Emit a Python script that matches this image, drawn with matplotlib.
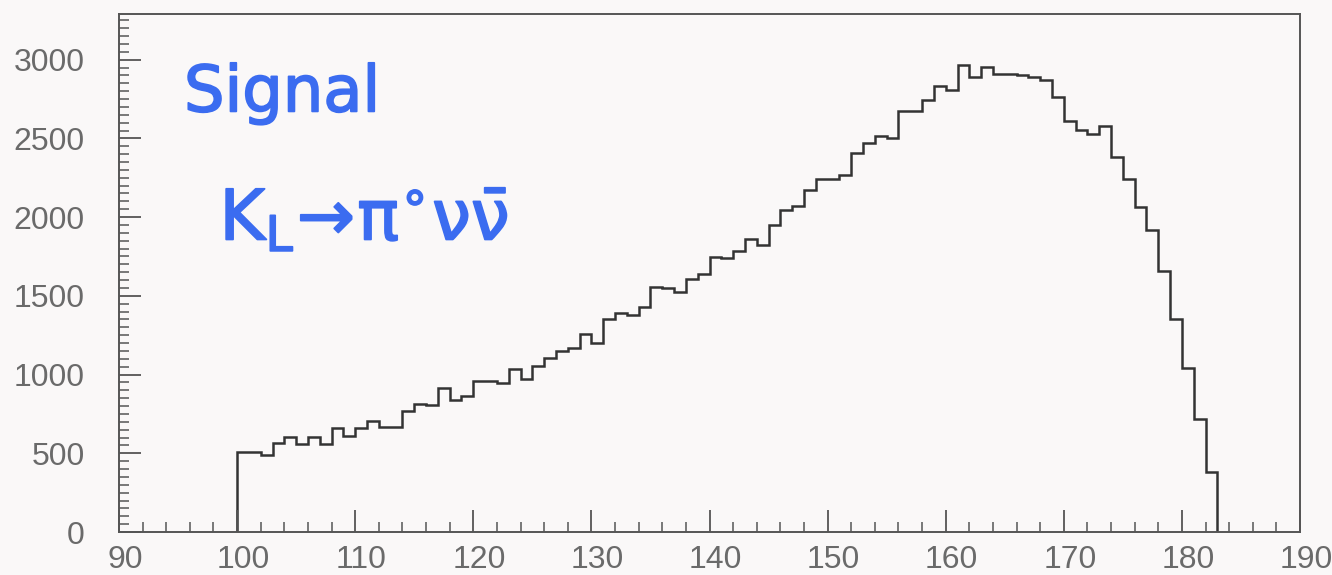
import numpy as np
import matplotlib
matplotlib.use('Agg')
import matplotlib.pyplot as plt
import matplotlib.transforms as mtransforms
import matplotlib.patheffects as pe
from matplotlib.ticker import MultipleLocator

plt.rcParams['mathtext.default'] = 'regular'

# bin edges: 1 unit bins from 100 to 183
bin_lo = 100
bin_hi = 183
counts = [505, 510, 487, 568, 606, 557, 606, 561, 663, 610,
          663, 705, 667, 667, 768, 811, 805, 917, 836, 864,
          959, 959, 946, 1035, 970, 1054, 1107, 1149, 1170, 1255,
          1202, 1350, 1388, 1376, 1431, 1558, 1551, 1526, 1604, 1636,
          1746, 1742, 1784, 1858, 1822, 1953, 2044, 2069, 2170, 2243,
          2243, 2270, 2408, 2471, 2518, 2503, 2672, 2672, 2746, 2831,
          2805, 2964, 2890, 2954, 2911, 2911, 2905, 2888, 2868, 2760,
          2613, 2556, 2531, 2581, 2380, 2239, 2065, 1921, 1657, 1350,
          1044, 716, 381]
edges = np.arange(bin_lo, bin_hi + 1)

fig = plt.figure(figsize=(13.32, 5.75), dpi=100)
fig.patch.set_facecolor('#faf8f8')
ax = fig.add_axes([119/1332, 43/575, 1181/1332, 518/575])
ax.set_facecolor('#faf8f8')

ax.stairs(counts, edges, color='#333333', linewidth=1.8)

ax.set_xlim(90, 190)
ax.set_ylim(0, 3290)
ax.xaxis.set_major_locator(MultipleLocator(10))
ax.xaxis.set_minor_locator(MultipleLocator(2))
ax.yaxis.set_major_locator(MultipleLocator(500))
ax.yaxis.set_minor_locator(MultipleLocator(50))

for s in ax.spines.values():
    s.set_color('#555555')
    s.set_linewidth(1.4)

ax.tick_params(which='major', direction='in', length=16, width=1.3, color='#555555',
               labelsize=23, labelcolor='#6a6a6a')
ax.tick_params(which='minor', direction='in', length=7, width=1.1, color='#555555')
ax.tick_params(axis='y', which='major', pad=24.5)
ax.tick_params(axis='x', which='major', pad=9.5)
for lab in ax.get_xticklabels() + ax.get_yticklabels():
    lab.set_family(['Liberation Sans', 'DejaVu Sans'])

# x labels sit a little right of their ticks in the original
shift = mtransforms.ScaledTranslation(6/100, 0, fig.dpi_scale_trans)
for lab in ax.get_xticklabels():
    lab.set_transform(lab.get_transform() + shift)

# handwritten blue note, slightly thickened like a marker pen
pen = [pe.withStroke(linewidth=1.3, foreground='#3b6cf0')]
ax.text(0.055, 0.812, 'Signal', transform=ax.transAxes, fontsize=46,
        color='#3b6cf0', ha='left', va='baseline', path_effects=pen)
ax.text(0.085, 0.564, r'$K_L\!\rightarrow\!\pi^{\circ}\nu\bar{\nu}$', transform=ax.transAxes,
        fontsize=50, color='#3b6cf0', ha='left', va='baseline', path_effects=pen)

fig.savefig('out.png', dpi=100, facecolor=fig.get_facecolor())
